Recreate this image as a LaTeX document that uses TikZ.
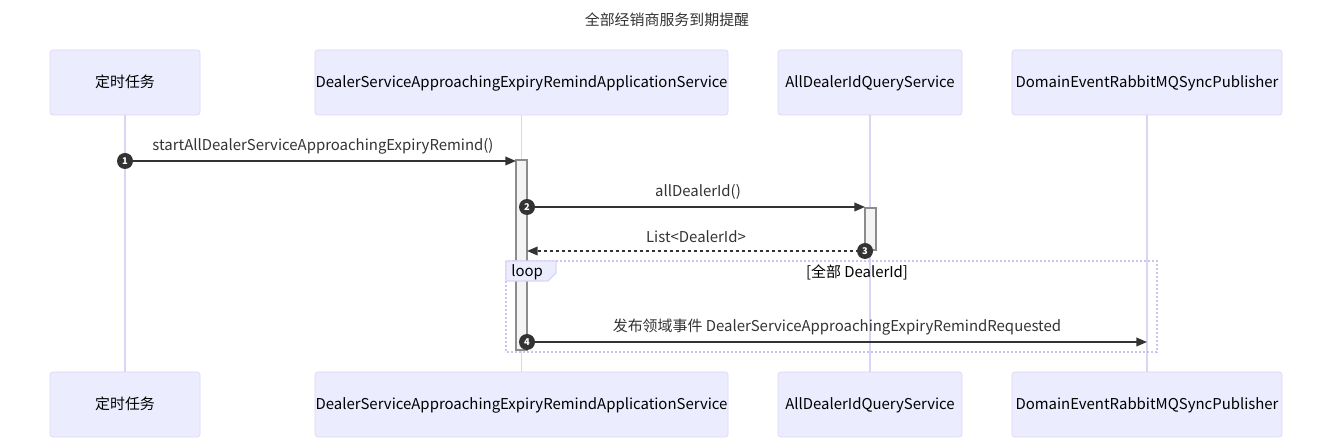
\documentclass[tikz,border=0pt]{standalone}
\usepackage{fontspec}
\setmainfont{Noto Sans CJK SC}
\usetikzlibrary{arrows.meta, positioning}
\definecolor{actfill}{HTML}{ECECFF}
\definecolor{actline}{HTML}{DCD4F4}
\definecolor{loopline}{HTML}{CFC4F0}
\definecolor{msgcol}{HTML}{333333}
\definecolor{barfill}{HTML}{F4F4F4}

\begin{document}
\begin{tikzpicture}[x=0.75pt, y=-0.75pt,
  actor/.style={draw=actline, fill=actfill, rounded corners=2pt, minimum height=48.75pt, inner sep=0pt, text height=8.5pt, text depth=1.5pt, font=\fontsize{11.2}{13}\selectfont},
  life/.style={draw=actline, line width=1.4pt},
  bar/.style={draw=black!45, fill=barfill, line width=0.9pt, minimum width=8.25pt, inner sep=0pt},
  msgline/.style={draw=msgcol, line width=1.2pt, -{Triangle[length=8pt,width=6.5pt]}},
  msgtext/.style={text=msgcol, font=\fontsize{11.2}{13}\selectfont, inner sep=0pt},
  seqnum/.style={circle, fill=msgcol, text=white, minimum size=12pt, inner sep=0pt, font=\fontsize{7}{8}\selectfont\bfseries}]
\useasboundingbox (0,0) rectangle (1332,448);

% title
\node[msgtext] (title) at (667,20) {全部经销商服务到期提醒};

% participants, top and bottom
\node[actor, minimum width=112.5pt] (timer) at (125,82.5) {定时任务};
\node[actor, minimum width=309.75pt] (appsvc) at (521.5,82.5) {DealerServiceApproachingExpiryRemindApplicationService};
\node[actor, minimum width=138pt] (querysvc) at (870,82.5) {AllDealerIdQueryService};
\node[actor, minimum width=202.5pt] (publisher) at (1147,82.5) {DomainEventRabbitMQSyncPublisher};

\node[actor, minimum width=112.5pt] (timerB) at (125,404.5) {定时任务};
\node[actor, minimum width=309.75pt] (appsvcB) at (521.5,404.5) {DealerServiceApproachingExpiryRemindApplicationService};
\node[actor, minimum width=138pt] (querysvcB) at (870,404.5) {AllDealerIdQueryService};
\node[actor, minimum width=202.5pt] (publisherB) at (1147,404.5) {DomainEventRabbitMQSyncPublisher};

% lifelines
\draw[life] (timer) -- (timerB);
\draw[life] (appsvc) -- (appsvcB);
\draw[life] (querysvc) -- (querysvcB);
\draw[life] (publisher) -- (publisherB);

% activations
\node[bar, minimum height=142.5pt] (act1) at (521.5,255) {};
\node[bar, minimum height=31.5pt] (act2) at (870.5,229) {};

% loop frame
\draw[loopline, line width=1.1pt, dash pattern=on 1.5pt off 1.5pt] (506,261) rectangle (1157,352);
\draw[actline, fill=actfill, line width=0.8pt] (506,261) -- (556,261) -- (556,273) -- (548,281) -- (506,281) -- cycle;
\node[msgtext, anchor=west, text=black] (looplbl) at (511,272) {loop};
\node[msgtext, text=black] (loopcond) at (857,272) {[全部 DealerId]};

% message ends
\coordinate (s1) at (125,161);
\coordinate (e1) at (516,161);
\coordinate (s2) at (527,207);
\coordinate (e2) at (865,207);
\coordinate (s3) at (865,251);
\coordinate (e3) at (527,251);
\coordinate (s4) at (527,342);
\coordinate (e4) at (1147,342);

% messages
\draw[msgline] (s1) -- (e1);
\draw[msgline] (s2) -- (e2);
\draw[msgline, dash pattern=on 2.25pt off 2.25pt] (s3) -- (e3);
\draw[msgline] (s4) -- (e4);

\node[msgtext] (m1) at (323,146) {startAllDealerServiceApproachingExpiryRemind()};
\node[msgtext] (m2) at (698,192) {allDealerId()};
\node[msgtext] (m3) at (696,237) {List<DealerId>};
\node[msgtext] (m4) at (837,327) {发布领域事件 DealerServiceApproachingExpiryRemindRequested};

% sequence numbers
\node[seqnum] (n1) at (s1) {1};
\node[seqnum] (n2) at (s2) {2};
\node[seqnum] (n3) at (s3) {3};
\node[seqnum] (n4) at (s4) {4};
\end{tikzpicture}
\end{document}
